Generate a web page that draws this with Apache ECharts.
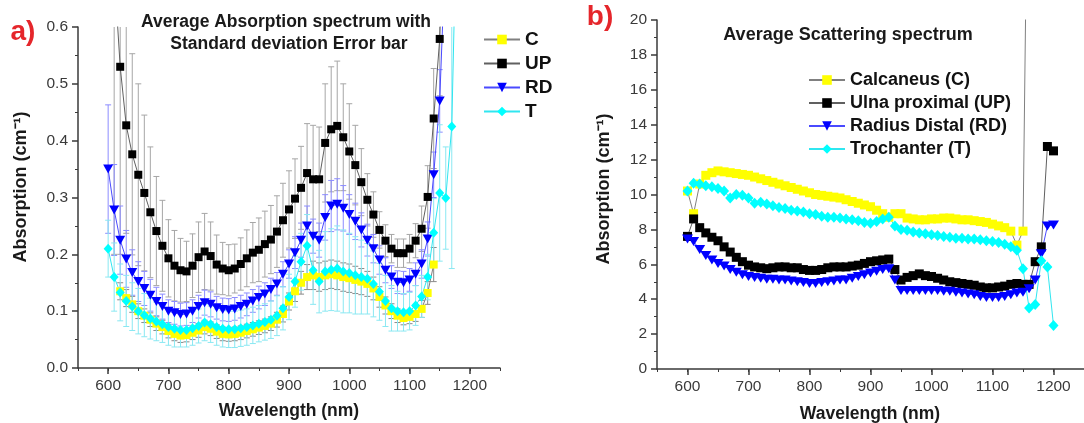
<!DOCTYPE html>
<html><head><meta charset="utf-8">
<script src="https://cdn.jsdelivr.net/npm/echarts@6/dist/echarts.min.js"></script>
<style>html,body{margin:0;padding:0;background:#fff}#c{width:1084px;height:423px}</style>
</head><body><div id="c"></div>
<script>
// ---------- Panel a: absorption (mean and SD) ----------
const wlA = [600,610,620,630,640,650,660,670,680,690,700,710,720,730,740,750,760,770,780,790,800,810,820,830,840,850,860,870,880,890,900,910,920,930,940,950,960,970,980,990,1000,1010,1020,1030,1040,1050,1060,1070,1080,1090,1100,1110,1120,1130,1140,1150,1160,1170,1180];
const cA = [null,null,0.135,0.123,0.112,0.100,0.092,0.085,0.078,0.072,0.065,0.060,0.057,0.058,0.062,0.066,0.072,0.069,0.064,0.060,0.059,0.060,0.062,0.065,0.068,0.071,0.074,0.078,0.085,0.095,0.117,0.135,0.150,0.160,0.163,0.160,0.163,0.165,0.163,0.160,0.158,0.155,0.152,0.148,0.140,0.125,0.110,0.100,0.092,0.088,0.090,0.095,0.104,0.132,0.182,null,null,null,null];
const cAerr = [null,null,0.015,0.015,0.014,0.013,0.012,0.012,0.012,0.012,0.012,0.012,0.012,0.012,0.012,0.012,0.012,0.012,0.012,0.012,0.012,0.012,0.012,0.012,0.012,0.012,0.012,0.012,0.013,0.014,0.015,0.018,0.020,0.022,0.025,0.025,0.025,0.025,0.025,0.025,0.025,0.024,0.023,0.022,0.020,0.018,0.015,0.013,0.012,0.012,0.012,0.013,0.015,0.020,0.030,null,null,null,null];
const upA = [null,0.70,0.530,0.427,0.376,0.340,0.308,0.274,0.241,0.215,0.193,0.180,0.172,0.170,0.180,0.195,0.205,0.197,0.182,0.175,0.172,0.175,0.183,0.193,0.203,0.208,0.218,0.226,0.240,0.260,0.279,0.298,0.317,0.343,0.332,0.332,0.396,0.420,0.426,0.406,0.381,0.357,0.327,0.296,0.270,0.243,0.224,0.210,0.202,0.202,0.210,0.224,0.245,0.301,0.439,0.579,0.90,null,null];
const upAerr = [null,0.50,0.33,0.19,0.177,0.160,0.137,0.115,0.096,0.080,0.068,0.062,0.056,0.053,0.056,0.062,0.067,0.060,0.052,0.046,0.045,0.043,0.046,0.050,0.053,0.056,0.058,0.060,0.063,0.065,0.068,0.070,0.073,0.087,0.095,0.092,0.104,0.110,0.114,0.094,0.084,0.070,0.059,0.046,0.040,0.032,0.028,0.025,0.025,0.025,0.025,0.030,0.040,0.055,0.088,0.100,0.200,null,null];
const rdA = [0.350,0.278,0.225,0.192,0.168,0.152,0.140,0.128,0.117,0.108,0.100,0.097,0.094,0.095,0.100,0.108,0.115,0.112,0.106,0.103,0.102,0.104,0.108,0.112,0.118,0.124,0.130,0.138,0.148,0.165,0.183,0.203,0.225,0.250,0.232,0.225,0.265,0.285,0.288,0.281,0.270,0.258,0.243,0.225,0.210,0.190,0.172,0.160,0.151,0.150,0.155,0.165,0.183,0.227,0.340,0.470,0.75,null,null];
const rdAerr = [0.113,0.080,0.060,0.050,0.040,0.035,0.030,0.028,0.025,0.022,0.020,0.020,0.020,0.020,0.020,0.020,0.022,0.022,0.020,0.020,0.020,0.020,0.020,0.020,0.020,0.020,0.020,0.020,0.020,0.022,0.025,0.028,0.030,0.035,0.030,0.030,0.040,0.045,0.045,0.040,0.035,0.032,0.030,0.028,0.025,0.025,0.022,0.020,0.020,0.020,0.020,0.020,0.025,0.030,0.040,0.055,0.100,null,null];
const tA = [0.210,0.160,0.133,0.118,0.108,0.100,0.093,0.087,0.082,0.077,0.072,0.069,0.067,0.067,0.070,0.074,0.080,0.077,0.072,0.069,0.068,0.068,0.070,0.072,0.075,0.078,0.081,0.085,0.092,0.105,0.125,0.152,0.187,0.215,0.172,0.152,0.170,0.173,0.175,0.170,0.167,0.163,0.160,0.157,0.148,0.134,0.118,0.105,0.100,0.098,0.100,0.110,0.126,0.160,0.238,0.308,0.299,0.425,0.90];
const tAerr = [0.050,0.060,0.050,0.045,0.042,0.040,0.038,0.036,0.034,0.032,0.032,0.032,0.030,0.030,0.030,0.030,0.032,0.032,0.032,0.032,0.032,0.032,0.032,0.032,0.032,0.032,0.032,0.033,0.035,0.038,0.040,0.045,0.050,0.055,0.060,0.055,0.070,0.072,0.075,0.073,0.070,0.068,0.065,0.062,0.058,0.050,0.045,0.040,0.035,0.033,0.033,0.035,0.037,0.040,0.060,0.120,0.090,0.250,null];

// ---------- Panel b: scattering ----------
const wlB = [600,610,620,630,640,650,660,670,680,690,700,710,720,730,740,750,760,770,780,790,800,810,820,830,840,850,860,870,880,890,900,910,920,930,940,950,960,970,980,990,1000,1010,1020,1030,1040,1050,1060,1070,1080,1090,1100,1110,1120,1130,1140,1150,1160,1170,1180,1190,1200];
const cB = [10.2,8.9,10.6,11.1,11.25,11.35,11.3,11.25,11.2,11.15,11.1,11.0,10.9,10.8,10.7,10.6,10.5,10.4,10.3,10.2,10.1,10.0,9.95,9.9,9.85,9.8,9.7,9.6,9.5,9.4,9.3,9.1,8.9,8.7,8.9,8.9,8.65,8.6,8.55,8.55,8.6,8.6,8.65,8.65,8.6,8.55,8.55,8.5,8.45,8.4,8.3,8.2,8.1,7.9,7.1,7.9,37,null,null,null,null];
const upB = [7.6,8.6,8.1,7.8,7.55,7.35,7.0,6.7,6.4,6.15,5.95,5.85,5.8,5.75,5.8,5.85,5.85,5.8,5.8,5.7,5.65,5.65,5.7,5.8,5.85,5.85,5.85,5.9,5.95,6.05,6.15,6.2,6.25,6.3,5.7,5.1,5.25,5.35,5.45,5.35,5.3,5.2,5.1,5.0,4.95,4.9,4.85,4.8,4.7,4.65,4.65,4.7,4.75,4.85,4.9,4.85,4.85,6.15,7.0,12.75,12.5];
const rdB = [7.45,7.3,6.85,6.5,6.25,6.05,5.9,5.7,5.55,5.4,5.3,5.25,5.2,5.15,5.15,5.1,5.1,5.05,5.0,4.95,4.9,4.9,4.95,5.0,5.05,5.1,5.1,5.2,5.3,5.4,5.5,5.6,5.7,5.75,5.1,4.5,4.5,4.5,4.5,4.5,4.5,4.5,4.45,4.45,4.4,4.35,4.3,4.25,4.15,4.1,4.1,4.1,4.15,4.25,4.35,4.4,4.6,5.1,6.6,8.2,8.25];
const tB = [10.2,10.65,10.6,10.5,10.45,10.35,10.2,9.8,10.0,9.95,9.8,9.5,9.55,9.45,9.35,9.25,9.2,9.1,9.05,9.0,8.9,8.85,8.75,8.7,8.7,8.65,8.6,8.55,8.5,8.4,8.35,8.45,8.6,8.7,8.2,8.0,7.95,7.85,7.8,7.75,7.7,7.65,7.6,7.55,7.5,7.5,7.45,7.45,7.4,7.35,7.3,7.25,7.15,7.0,6.8,5.75,3.5,3.7,6.2,5.85,2.5];

// ---------- tick labels / text ----------
const xTicks = [600,700,800,900,1000,1100,1200];
const namesA = ['C','UP','RD','T'];
const namesB = ['Calcaneus (C)','Ulna proximal (UP)','Radius Distal (RD)','Trochanter (T)'];

const FONT = '"Liberation Sans", Arial, Helvetica, sans-serif';
const AX = '#3a3a3a';

function pairs(xs, ys){ const o=[]; xs.forEach((x,i)=>{ if(ys[i]!=null) o.push([x, ys[i]]); }); return o; }
function triples(xs, ys, es){ const o=[]; xs.forEach((x,i)=>{ if(ys[i]!=null && es[i]!=null) o.push([x, ys[i], es[i]]); }); return o; }

function errSeries(data, color, xi, yi, ymin, ymax){
  return {
    type:'custom', xAxisIndex:xi, yAxisIndex:yi, data, encode:{x:0,y:1}, z:1, silent:true,
    renderItem(params, api){
      const x=api.value(0), y=api.value(1), e=api.value(2);
      const top=Math.min(y+e, ymax), bot=Math.max(y-e, ymin);
      if (bot >= top) return null;
      const p1=api.coord([x, top]), p2=api.coord([x, bot]);
      const st={stroke:color, lineWidth:1};
      const ch=[{type:'line', shape:{x1:p1[0],y1:p1[1],x2:p2[0],y2:p2[1]}, style:st}];
      if (y+e <= ymax) ch.push({type:'line', shape:{x1:p1[0]-3,y1:p1[1],x2:p1[0]+3,y2:p1[1]}, style:st});
      if (y-e >= ymin) ch.push({type:'line', shape:{x1:p2[0]-3,y1:p2[1],x2:p2[0]+3,y2:p2[1]}, style:st});
      return {type:'group', children:ch};
    }
  };
}

const stylesA = [
  {symbol:'rect', size:8, rot:0, fill:'#ffff00', line:'#808080'},
  {symbol:'rect', size:8, rot:0, fill:'#000000', line:'#606060'},
  {symbol:'triangle', size:[10,9], rot:180, fill:'#0000ff', line:'#4a4aff'},
  {symbol:'diamond', size:[9,10], rot:0, fill:'#00ffff', line:'#30e6f0'}
];
const stylesB = [
  {symbol:'rect', size:9, rot:0, fill:'#ffff00', line:'#808080'},
  {symbol:'rect', size:9, rot:0, fill:'#000000', line:'#606060'},
  {symbol:'triangle', size:[11,9], rot:180, fill:'#0000ff', line:'#4a4aff'},
  {symbol:'diamond', size:[10,11], rot:0, fill:'#00ffff', line:'#30e6f0'}
];
function lineSeries(name, data, st, xi, yi){
  return {type:'line', name, data, xAxisIndex:xi, yAxisIndex:yi, z:3,
    symbol:st.symbol, symbolSize:st.size, symbolRotate:st.rot,
    itemStyle:{color:st.fill, borderWidth:0},
    lineStyle:{color:st.line, width:1}, emphasis:{disabled:true}};
}

const seriesAvals = [cA, upA, rdA, tA];
const seriesAerrs = [cAerr, upAerr, rdAerr, tAerr];
const errColors = ['#8a8a8a', '#a6a6a6', '#8c8cff', '#8ae8f2'];
const seriesBvals = [cB, upB, rdB, tB];

const series = [];
seriesAerrs.forEach((e,i)=> series.push(errSeries(triples(wlA, seriesAvals[i], e), errColors[i], 0, 0, 0, 0.6)));
seriesAvals.forEach((v,i)=> series.push(lineSeries(namesA[i], pairs(wlA, v), stylesA[i], 0, 0)));
seriesBvals.forEach((v,i)=> series.push(lineSeries(namesB[i], pairs(wlB, v), stylesB[i], 2, 1)));

function mainX(grid){
  return {gridIndex:grid, type:'value', min:550, max:1250, interval:50, position:'bottom',
    axisLine:{show:true, onZero:false, lineStyle:{color:AX, width:1.5}},
    axisTick:{show:true, length:6, customValues:xTicks, lineStyle:{color:AX, width:1.5}},
    axisLabel:{customValues:xTicks, formatter:v=> (v%100===0? String(v):''), fontSize:15.5, color:AX, fontFamily:FONT, margin:10},
    splitLine:{show:false}};
}
function minorX(grid){
  return {gridIndex:grid, type:'value', min:550, max:1250, interval:50, position:'bottom',
    axisLine:{show:false, onZero:false}, axisTick:{show:true, length:3, lineStyle:{color:AX, width:1}},
    axisLabel:{show:false}, splitLine:{show:false}};
}
function yAx(grid, max, interval, fmt){
  return {gridIndex:grid, type:'value', min:0, max, interval, position:'left',
    axisLine:{show:true, lineStyle:{color:AX, width:1.5}},
    axisTick:{show:true, length:6, lineStyle:{color:AX, width:1.5}},
    minorTick:{show:true, splitNumber:2, length:3, lineStyle:{color:AX, width:1}},
    axisLabel:{formatter:fmt, fontSize:15.5, color:AX, fontFamily:FONT, margin:10},
    splitLine:{show:false}, minorSplitLine:{show:false}};
}

const bold = (size)=> 'bold ' + size + 'px ' + FONT;
function txt(text, x, y, size, opts){
  return Object.assign({type:'text', x, y, silent:true,
    style:{text, font:bold(size), fill:'#1a1a1a', textAlign:'center', textVerticalAlign:'middle'}}, opts||{});
}

const option = {
  animation:false,
  backgroundColor:'#ffffff',
  grid:[
    {left:78, top:27, width:422, height:341},
    {left:657, top:20, width:427, height:349}
  ],
  xAxis:[mainX(0), minorX(0), mainX(1), minorX(1)],
  yAxis:[yAx(0, 0.6, 0.1, v=>v.toFixed(1)), yAx(1, 20, 2, v=>String(v))],
  legend:[
    {data:namesA, orient:'vertical', left:478, top:25, itemWidth:36, itemHeight:12, itemGap:5,
     selectedMode:false, textStyle:{fontSize:19, fontWeight:'bold', color:'#111', fontFamily:FONT, lineHeight:19}},
    {data:namesB, orient:'vertical', left:803, top:66, itemWidth:36, itemHeight:12, itemGap:5,
     selectedMode:false, textStyle:{fontSize:18, fontWeight:'bold', color:'#111', fontFamily:FONT, lineHeight:18}}
  ],
  graphic:[
    txt('a)', 23, 32, 28, {style:{text:'a)', font:bold(28), fill:'#e5262b', textAlign:'center', textVerticalAlign:'middle'}}),
    txt('b)', 600, 17, 28, {style:{text:'b)', font:bold(28), fill:'#e5262b', textAlign:'center', textVerticalAlign:'middle'}}),
    txt('Average Absorption spectrum with', 286, 22, 17.5),
    txt('Standard deviation Error bar', 289, 44, 17.5),
    txt('Average Scattering spectrum', 848, 35, 18),
    txt('Wavelength (nm)', 289, 411, 17.5),
    txt('Wavelength (nm)', 870, 414, 17.5),
    txt('Absorption (cm\u207B\u00B9)', 21, 187, 18, {rotation:Math.PI/2}),
    txt('Absorption (cm\u207B\u00B9)', 604, 189, 18, {rotation:Math.PI/2})
  ],
  series
};
const chart = echarts.init(document.getElementById('c'), null, {renderer:'canvas'});
chart.setOption(option);
</script></body></html>
